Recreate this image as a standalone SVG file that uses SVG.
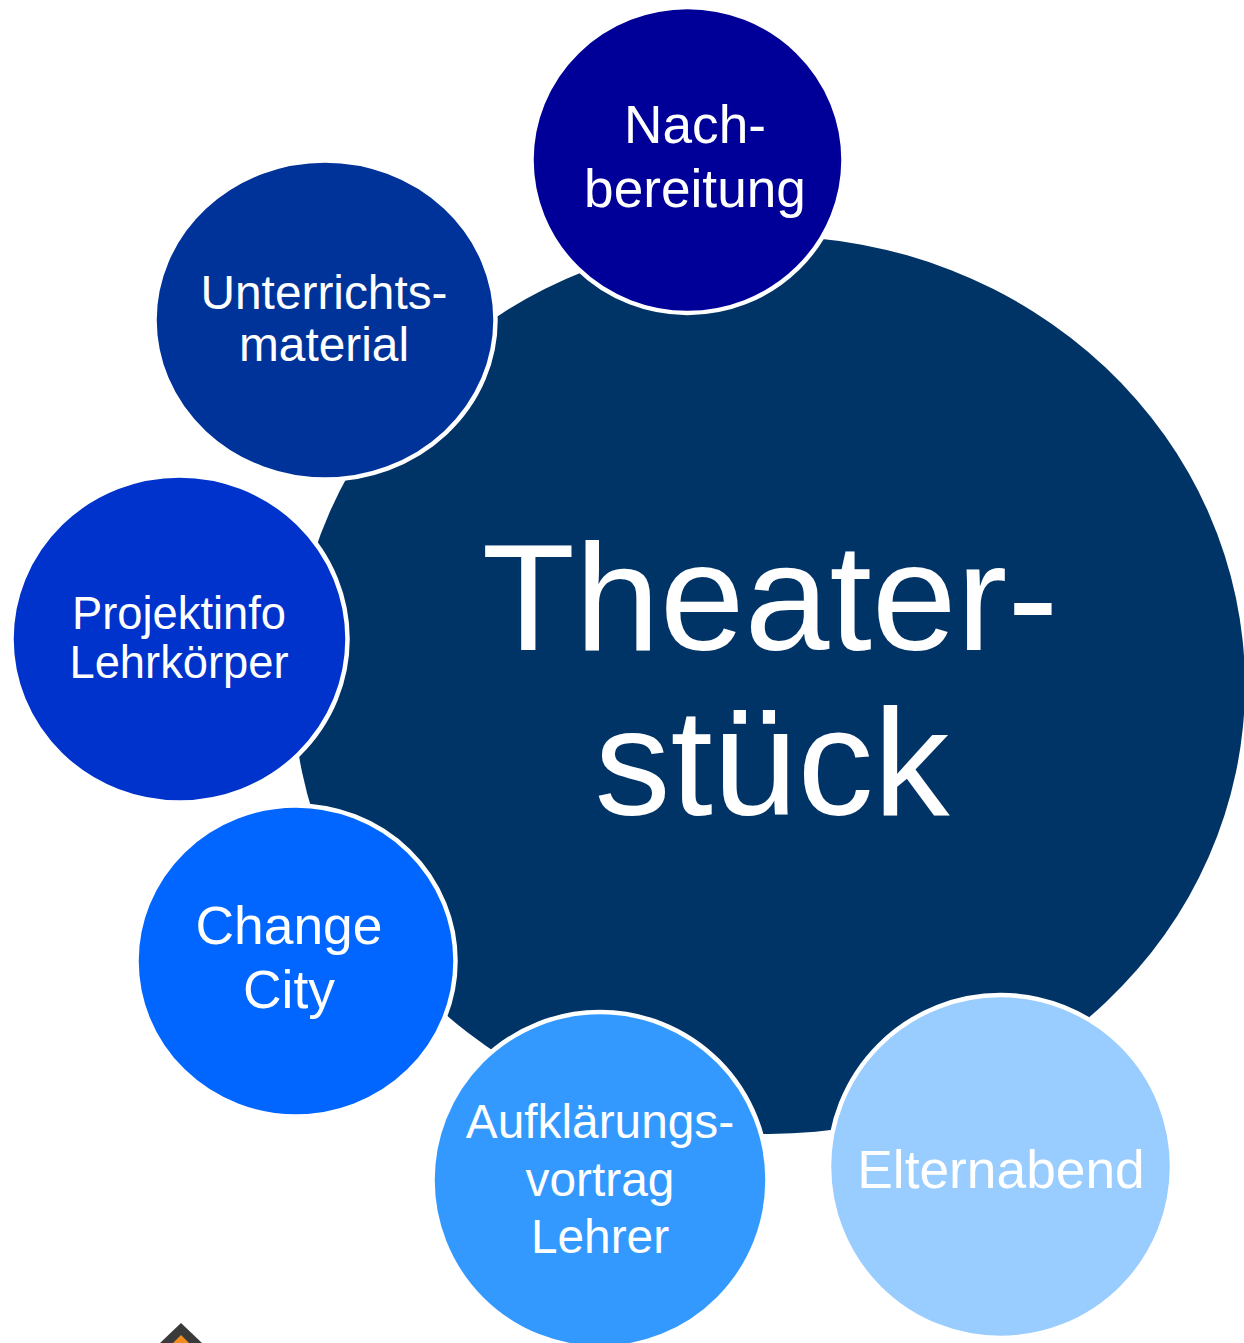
<svg xmlns="http://www.w3.org/2000/svg" width="1244" height="1343" viewBox="0 0 1244 1343">
<style>
text{font-family:"Liberation Sans",Arial,sans-serif;fill:#fff;text-anchor:middle}
.c{stroke:#fff;stroke-width:4.500}
</style>
<rect width="1244" height="1343" fill="#fff"/>
<g id="house"><path d="M160 1343L181 1323L202 1343Z" fill="#3a3a3a"/><path d="M173 1343L181 1335L189 1343Z" fill="#f28c1e"/></g>
<g id="connectors"></g>
<g id="theater"><ellipse cx="769" cy="685" rx="476" ry="449" fill="#003366"/>
<text x="770" y="650" font-size="152.500">Theater-</text><text x="772" y="815" font-size="152">stück</text></g>
<g id="nach"><ellipse class="c" cx="687.500" cy="160" rx="156" ry="153" fill="#000099"/>
<text x="695" y="143" font-size="53.200">Nach-</text><text x="695" y="207" font-size="53.200">bereitung</text></g>
<g id="unterricht"><ellipse class="c" cx="325" cy="320" rx="170.500" ry="159.500" fill="#003399"/>
<text x="324" y="309" font-size="47.800">Unterrichts-</text><text x="324" y="361" font-size="47.800">material</text></g>
<g id="projekt"><ellipse class="c" cx="179.500" cy="639" rx="168" ry="163.500" fill="#0033cc"/>
<text x="179" y="629" font-size="45.300">Projektinfo</text><text x="179" y="678" font-size="45.300">Lehrkörper</text></g>
<g id="change"><ellipse class="c" cx="296" cy="961" rx="159.500" ry="155.500" fill="#0066ff"/>
<text x="289" y="944" font-size="53.400">Change</text><text x="289" y="1008" font-size="53.400">City</text></g>
<g id="aufklaerung"><ellipse class="c" cx="600" cy="1180" rx="167.500" ry="168" fill="#3399ff"/>
<text x="600" y="1138" font-size="47.800">Aufklärungs-</text><text x="600" y="1196" font-size="47.800">vortrag</text><text x="600" y="1253" font-size="47.800">Lehrer</text></g>
<g id="eltern"><ellipse class="c" cx="1000.500" cy="1166.500" rx="171.500" ry="171.500" fill="#99ccff"/>
<text x="1001" y="1188" font-size="53.300">Elternabend</text></g>
</svg>
